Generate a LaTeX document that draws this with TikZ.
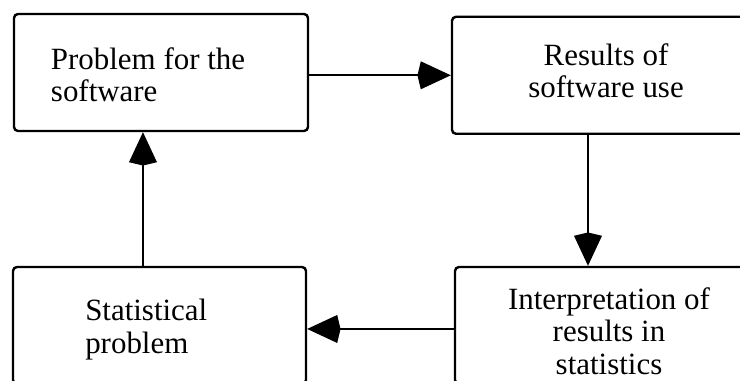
\documentclass[tikz,border=0pt]{standalone}
\usepackage{fontspec}
\setmainfont{Liberation Serif}
\usetikzlibrary{arrows.meta}
\begin{document}
\begin{tikzpicture}[x=0.75pt,y=-0.75pt,
    box/.style={draw,line width=1.8pt,rounded corners=3pt,minimum width=#1,minimum height=87.75pt,inner sep=0pt},
    txt/.style={font=\fontsize{23.2}{24.3}\selectfont,inner sep=0pt},
    flow/.style={line width=1.8pt,-{Kite[length=25pt,width=21pt,inset=2.5pt]}}]
        \useasboundingbox (0,0) rectangle (740,381);
        \clip (0,0) rectangle (740,381);
        \node[box=220.5pt] (prob) at (161,72.5) {};
        \node[box=232.5pt] (res) at (607,75.3) {};
        \node[box=219.75pt] (stat) at (159.5,325.5) {};
        \node[box=230.25pt] (interp) at (608.5,325.5) {};
        \node[txt,anchor=north west,align=left] (probText) at (50.7,47.5) {Problem for the\\software};
        \node[txt,anchor=north,align=center] (resText) at (606,43) {Results of\\software use};
        \node[txt,anchor=north west,align=left] (statText) at (85,299) {Statistical\\problem};
        \node[txt,anchor=north,align=center] (interpText) at (609,287.5) {Interpretation of\\results in\\statistics};
        \coordinate (d) at ([xshift=-14.25pt]res.south);
        \coordinate (l) at ([yshift=-2.6pt]interp.west);
        \coordinate (u) at ([xshift=-12.4pt]stat.north);
        \draw[flow] (prob.east |- res.west) -- (res.west);
        \draw[flow] (d) -- (d |- interp.north);
        \draw[flow] (l) -- (l -| stat.east);
        \draw[flow] (u) -- (u |- prob.south);
    \end{tikzpicture}
\end{document}
